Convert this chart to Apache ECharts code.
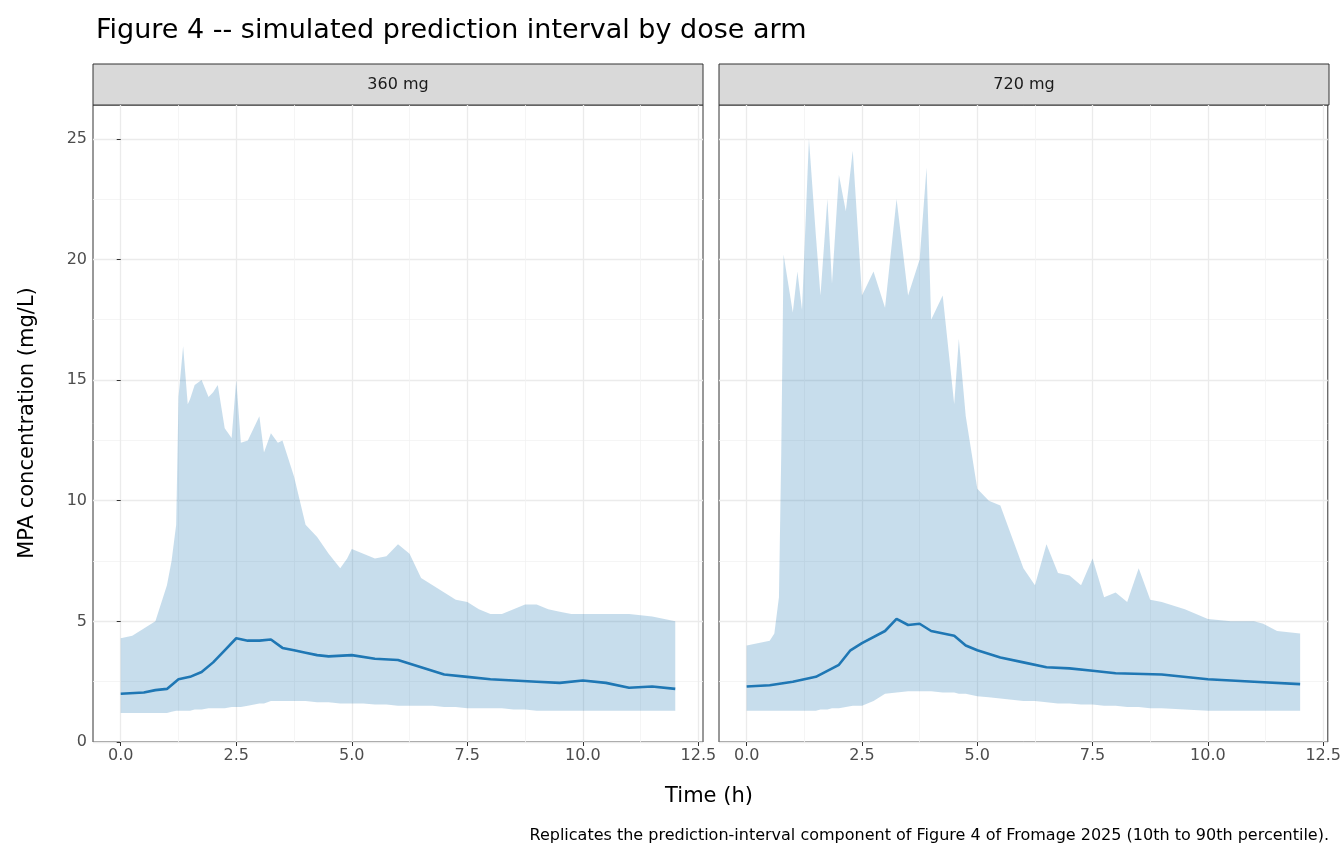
<!DOCTYPE html>
<html><head><meta charset="utf-8">
<script src="https://cdn.jsdelivr.net/npm/echarts@6/dist/echarts.min.js"></script>
<style>html,body{margin:0;padding:0;background:#fff}#c{width:1344px;height:864px}</style>
</head><body><div id="c"></div>
<script>
// 360 mg arm: band grid + percentiles
const t360 = [0,0.25,0.5,0.75,1,1.1,1.2,1.25,1.35,1.45,1.5,1.6,1.75,1.9,2,2.1,2.25,2.4,2.5,2.6,2.75,3,3.1,3.25,3.4,3.5,3.75,4,4.25,4.5,4.75,4.9,5,5.25,5.5,5.75,6,6.25,6.5,6.75,7,7.25,7.5,7.75,8,8.25,8.5,8.75,9,9.25,9.5,9.75,10,10.5,11,11.5,12];
const lo360 = [1.2,1.2,1.2,1.2,1.2,1.25,1.3,1.3,1.3,1.3,1.3,1.35,1.35,1.4,1.4,1.4,1.4,1.45,1.45,1.45,1.5,1.6,1.6,1.7,1.7,1.7,1.7,1.7,1.65,1.65,1.6,1.6,1.6,1.6,1.55,1.55,1.5,1.5,1.5,1.5,1.45,1.45,1.4,1.4,1.4,1.4,1.35,1.35,1.3,1.3,1.3,1.3,1.3,1.3,1.3,1.3,1.3];
const hi360 = [4.3,4.4,4.7,5.0,6.5,7.5,9.0,14.3,16.4,14.0,14.2,14.8,15.0,14.3,14.5,14.8,13.0,12.6,15.0,12.4,12.5,13.5,12.0,12.8,12.4,12.5,11.0,9.0,8.5,7.8,7.2,7.6,8.0,7.8,7.6,7.7,8.2,7.8,6.8,6.5,6.2,5.9,5.8,5.5,5.3,5.3,5.5,5.7,5.7,5.5,5.4,5.3,5.3,5.3,5.3,5.2,5.0];
const tMed360 = [0,0.5,0.75,1,1.25,1.5,1.75,2,2.25,2.5,2.75,3,3.25,3.5,3.75,4,4.25,4.5,5,5.5,6,6.5,7,7.5,8,9,9.5,10,10.5,11,11.5,12];
const med360 = [2.0,2.05,2.15,2.2,2.6,2.7,2.9,3.3,3.8,4.3,4.2,4.2,4.25,3.9,3.8,3.7,3.6,3.55,3.6,3.45,3.4,3.1,2.8,2.7,2.6,2.5,2.45,2.55,2.45,2.25,2.3,2.2];

// 720 mg arm
const t720 = [0,0.5,0.6,0.7,0.75,0.8,1,1.1,1.2,1.35,1.5,1.6,1.75,1.85,2,2.15,2.3,2.5,2.75,3,3.25,3.5,3.75,3.9,4,4.25,4.5,4.6,4.75,5,5.25,5.5,5.75,6,6.25,6.5,6.75,7,7.25,7.5,7.75,8,8.25,8.5,8.75,9,9.5,10,10.5,11,11.2,11.5,12];
const lo720 = [1.3,1.3,1.3,1.3,1.3,1.3,1.3,1.3,1.3,1.3,1.3,1.35,1.35,1.4,1.4,1.45,1.5,1.5,1.7,2.0,2.05,2.1,2.1,2.1,2.1,2.05,2.05,2.0,2.0,1.9,1.85,1.8,1.75,1.7,1.7,1.65,1.6,1.6,1.55,1.55,1.5,1.5,1.45,1.45,1.4,1.4,1.35,1.3,1.3,1.3,1.3,1.3,1.3];
const hi720 = [4.0,4.2,4.5,6.0,12.0,20.2,17.8,19.5,17.9,25.0,21.0,18.5,22.5,19.0,23.5,22.0,24.5,18.5,19.5,18.0,22.5,18.5,20.0,23.8,17.5,18.5,14.0,16.7,13.5,10.5,10.0,9.8,8.5,7.2,6.5,8.2,7.0,6.9,6.5,7.6,6.0,6.2,5.8,7.2,5.9,5.8,5.5,5.1,5.0,5.0,4.9,4.6,4.5];
const tMed720 = [0,0.5,1,1.5,2,2.25,2.5,3,3.25,3.5,3.75,4,4.5,4.75,5,5.5,6,6.5,7,7.5,8,9,10,11,12];
const med720 = [2.3,2.35,2.5,2.7,3.2,3.8,4.1,4.6,5.1,4.85,4.9,4.6,4.4,4.0,3.8,3.5,3.3,3.1,3.05,2.95,2.85,2.8,2.6,2.5,2.4];

const xMajor = [0,2.5,5,7.5,10,12.5];
const xMinor = [1.25,3.75,6.25,8.75,11.25];
const yMajor = [0,5,10,15,20,25];
const panels = ['360 mg','720 mg'];

const font = 'DejaVu Sans';
const pair = (xs, ys) => xs.map((x, i) => [x, ys[i]]);
const gridLeft = [93, 719], gridW = 610, gridTop = 105, gridH = 637;

function bandSeries(g, ts, lo, hi) {
  return {type: 'custom', xAxisIndex: 2 * g, yAxisIndex: g, silent: true, z: 2,
    data: [[ts[0], lo[0]]],
    renderItem: (params, api) => {
      const top = ts.map((t, i) => api.coord([t, hi[i]]));
      const bot = ts.map((t, i) => api.coord([t, lo[i]])).reverse();
      return {type: 'polygon', shape: {points: top.concat(bot)},
        style: {fill: 'rgba(31,119,180,0.25)', stroke: null}};
    }};
}

const grids = [], xAxes = [], yAxes = [], series = [], graphics = [];
const arms = [[t360, lo360, hi360, tMed360, med360], [t720, lo720, hi720, tMed720, med720]];
arms.forEach((a, g) => {
  grids.push({left: gridLeft[g], top: gridTop, width: gridW, height: gridH,
    show: true, borderColor: '#333', borderWidth: 1, backgroundColor: 'transparent'});
  xAxes.push({gridIndex: g, type: 'value', min: -0.6, max: 12.6,
    axisLine: {show: false},
    axisTick: {show: true, length: 4, lineStyle: {color: '#333'}, customValues: xMajor},
    axisLabel: {customValues: xMajor, formatter: v => v.toFixed(1), color: '#4d4d4d', fontSize: 16, fontFamily: font, margin: 6},
    splitLine: {show: true, lineStyle: {color: '#ebebeb', width: 1.3}}});
  xAxes.push({gridIndex: g, type: 'value', min: -0.6, max: 12.6,
    axisLine: {show: false}, axisLabel: {show: false},
    axisTick: {show: false, customValues: xMinor},
    splitLine: {show: true, lineStyle: {color: '#f3f3f3', width: 0.8}}});
  yAxes.push({gridIndex: g, type: 'value', min: 0, max: 26.4, interval: 5,
    axisLine: {show: false},
    axisTick: {show: g === 0, length: 4, lineStyle: {color: '#333'}, customValues: yMajor},
    axisLabel: {show: g === 0, customValues: yMajor, color: '#4d4d4d', fontSize: 16, fontFamily: font, margin: 6},
    splitLine: {lineStyle: {color: '#ebebeb', width: 1.3}},
    minorTick: {show: false, splitNumber: 2},
    minorSplitLine: {show: true, lineStyle: {color: '#f3f3f3', width: 0.8}}});
  series.push(bandSeries(g, a[0], a[1], a[2]));
  series.push({type: 'line', xAxisIndex: 2 * g, yAxisIndex: g, symbol: 'none',
    data: pair(a[3], a[4]), lineStyle: {color: '#1f77b4', width: 2.6}, z: 5});
  graphics.push({type: 'rect', shape: {x: gridLeft[g], y: 64, width: gridW, height: 41},
    style: {fill: '#d9d9d9', stroke: '#333', lineWidth: 1}});
  graphics.push({type: 'text', x: gridLeft[g] + gridW / 2, y: 85,
    style: {text: panels[g], fill: '#1a1a1a', font: '16px ' + font, align: 'center', verticalAlign: 'middle'}});
});

graphics.push({type: 'text', x: 28, y: 423, rotation: Math.PI / 2,
  style: {text: 'MPA concentration (mg/L)', fill: '#000', font: '21px ' + font, align: 'center', verticalAlign: 'middle'}});
graphics.push({type: 'text', x: 709, y: 797,
  style: {text: 'Time (h)', fill: '#000', font: '21px ' + font, align: 'center', verticalAlign: 'middle'}});
graphics.push({type: 'text', x: 1329, y: 836,
  style: {text: 'Replicates the prediction-interval component of Figure 4 of Fromage 2025 (10th to 90th percentile).', fill: '#000', font: '16px ' + font, align: 'right', verticalAlign: 'middle'}});

const chart = echarts.init(document.getElementById('c'));
chart.setOption({
  animation: false,
  title: {text: 'Figure 4 -- simulated prediction interval by dose arm', left: 91, top: 12,
    textStyle: {fontFamily: font, fontSize: 27, fontWeight: 'normal', color: '#000'}},
  grid: grids, xAxis: xAxes, yAxis: yAxes, series: series, graphic: graphics
});
</script></body></html>
